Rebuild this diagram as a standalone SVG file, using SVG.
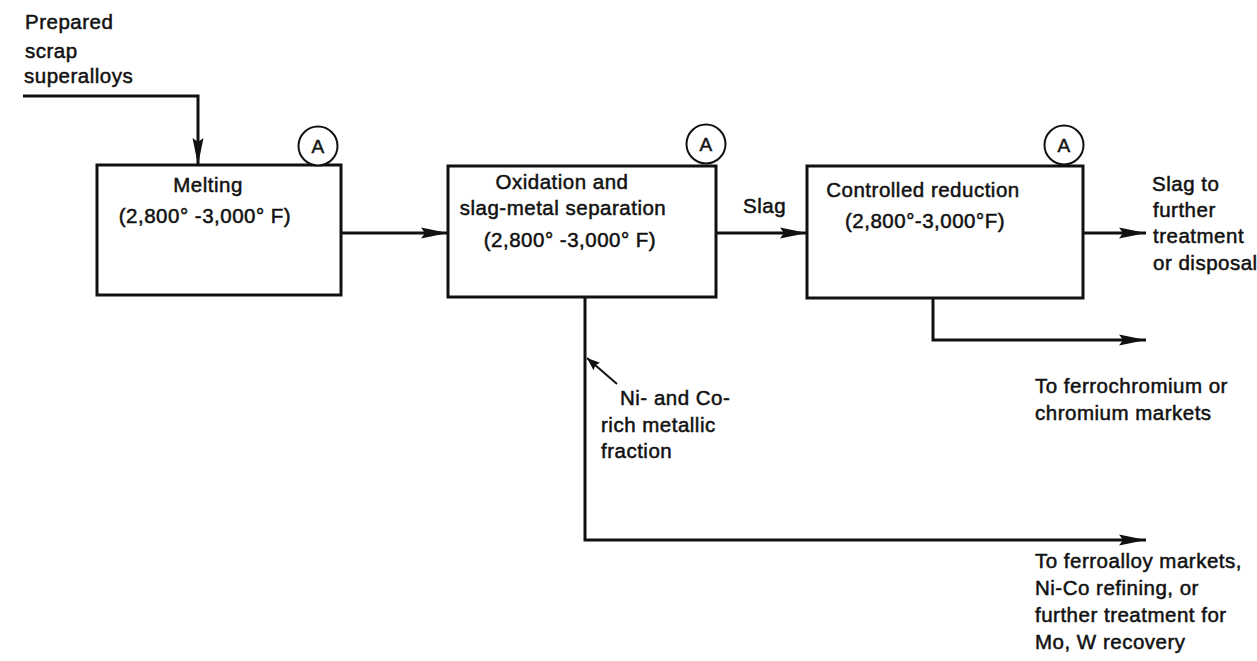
<svg xmlns="http://www.w3.org/2000/svg" width="1257" height="661" viewBox="0 0 1257 661">
<defs>
<style>
text{font-family:"Liberation Sans",Arial,sans-serif;font-size:20.5px;fill:#111;stroke:#111;stroke-width:0.5;letter-spacing:0.5px}
.box{fill:#fff;stroke:#111;stroke-width:3}
.tag{fill:#fff;stroke:#111;stroke-width:2}
.ln{fill:none;stroke:#111;stroke-width:3;stroke-linejoin:miter}
.mid{text-anchor:middle}
</style>
<marker id="ah" markerUnits="userSpaceOnUse" markerWidth="28" markerHeight="12" refX="27" refY="6" orient="auto">
<path d="M0,0.5 L27,6 L0,11.5 L4,6 z" fill="#111"/>
</marker>
<marker id="ahs" markerUnits="userSpaceOnUse" markerWidth="14" markerHeight="10" refX="13" refY="5" orient="auto">
<path d="M0,0 L13,5 L0,10 L2,5 z" fill="#111"/>
</marker>
</defs>
<rect width="1257" height="661" fill="#fff"/>
<g id="connectors">
<path class="ln" d="M23,96 L198,96 L198,165" marker-end="url(#ah)"/>
<path class="ln" d="M341,233 L448,233" marker-end="url(#ah)"/>
<path class="ln" d="M716,233 L807,233" marker-end="url(#ah)"/>
<path class="ln" d="M1083,233 L1146,233" marker-end="url(#ah)"/>
<path class="ln" d="M933,298 L933,340 L1146,340" marker-end="url(#ah)"/>
<path class="ln" d="M585,297 L585,540 L1146,540" marker-end="url(#ah)"/>
<path class="ln" d="M617,384 L587,358" style="stroke-width:2" marker-end="url(#ahs)"/>
<text x="743" y="213">Slag</text>
</g>
<g id="input">
<text x="25" y="29">Prepared</text>
<text x="25" y="58">scrap</text>
<text x="24" y="83">superalloys</text>
</g>
<g id="melting">
<rect class="box" x="97" y="165" width="244" height="130"/>
<circle class="tag" cx="318" cy="146" r="19.5"/>
<text class="mid" x="318" y="153" style="font-size:19px">A</text>
<text class="mid" x="208" y="192">Melting</text>
<text class="mid" x="205" y="223">(2,800° -3,000° F)</text>
</g>
<g id="oxidation">
<rect class="box" x="448" y="166" width="268" height="131"/>
<circle class="tag" cx="706" cy="144" r="19.5"/>
<text class="mid" x="706" y="151" style="font-size:19px">A</text>
<text class="mid" x="562" y="189">Oxidation and</text>
<text class="mid" x="563" y="215">slag-metal separation</text>
<text class="mid" x="570" y="247">(2,800° -3,000° F)</text>
</g>
<g id="reduction">
<rect class="box" x="807" y="166" width="276" height="132"/>
<circle class="tag" cx="1064" cy="145" r="19.5"/>
<text class="mid" x="1064" y="152" style="font-size:19px">A</text>
<text class="mid" x="923" y="197">Controlled reduction</text>
<text class="mid" x="925" y="228">(2,800°-3,000°F)</text>
</g>
<g id="slag-out">
<text x="1152" y="191">Slag to</text>
<text x="1153" y="217">further</text>
<text x="1153" y="243">treatment</text>
<text x="1153" y="270">or disposal</text>
</g>
<g id="chromium-out">
<text x="1035" y="393">To ferrochromium or</text>
<text x="1035" y="420">chromium  markets</text>
</g>
<g id="metal-fraction">
<text x="620" y="405">Ni- and Co-</text>
<text x="601" y="432">rich metallic</text>
<text x="601" y="458">fraction</text>
</g>
<g id="ferroalloy-out">
<text x="1035" y="568">To ferroalloy markets,</text>
<text x="1035" y="595">Ni-Co refining, or</text>
<text x="1035" y="622">further treatment for</text>
<text x="1035" y="649">Mo, W recovery</text>
</g>
</svg>
